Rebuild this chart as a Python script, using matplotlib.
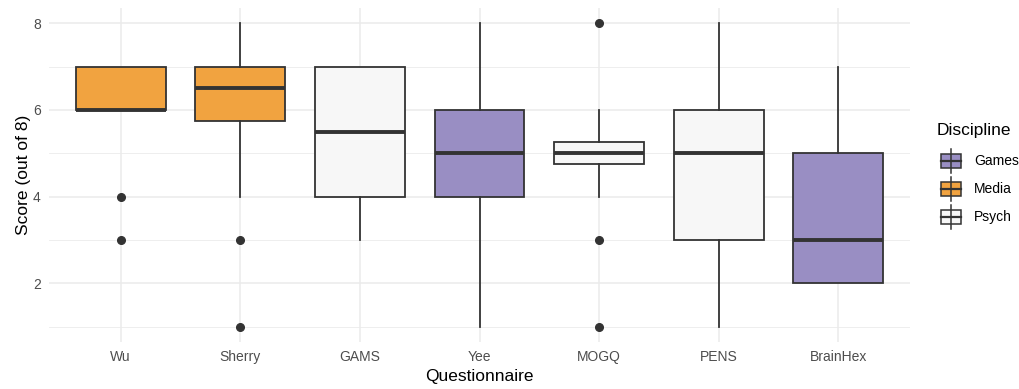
import matplotlib
matplotlib.use("Agg")
import matplotlib.pyplot as plt
from matplotlib.patches import Rectangle

plt.rcParams['font.family'] = ['Liberation Sans', 'DejaVu Sans']

# data
questionnaires = ["Wu", "Sherry", "GAMS", "Yee", "MOGQ", "PENS", "BrainHex"]
discipline = ["Media", "Media", "Psych", "Games", "Psych", "Psych", "Games"]
q1 = [6, 5.75, 4, 4, 4.75, 3, 2]
median = [6, 6.5, 5.5, 5, 5, 5, 3]
q3 = [7, 7, 7, 6, 5.25, 6, 5]
whisker_lo = [6, 4, 3, 1, 4, 1, 2]
whisker_hi = [7, 8, 7, 8, 6, 8, 7]
outliers = [[4, 3], [3, 1], [], [], [8, 3, 1], [], []]

colors = {"Games": "#998EC3", "Media": "#F1A340", "Psych": "#F7F7F7"}
dark = "#333333"

W, H = 1019, 389
fig = plt.figure(figsize=(W / 100, H / 100), dpi=100)
ax = fig.add_axes([49 / W, (H - 342) / H, (910 - 49) / W, (342 - 8) / H])

stats = []
for i, name in enumerate(questionnaires):
    stats.append(dict(label=name, q1=q1[i], med=median[i], q3=q3[i],
                      whislo=whisker_lo[i], whishi=whisker_hi[i],
                      fliers=outliers[i]))

pos = list(range(1, len(questionnaires) + 1))
bp = ax.bxp(stats, positions=pos, widths=0.75, patch_artist=True,
            showcaps=False, zorder=3,
            boxprops=dict(edgecolor=dark, linewidth=1.3),
            whiskerprops=dict(color=dark, linewidth=1.3),
            medianprops=dict(color=dark, linewidth=2.8),
            flierprops=dict(marker="o", markerfacecolor=dark,
                            markeredgecolor=dark, markersize=5.5))
for patch, d in zip(bp["boxes"], discipline):
    patch.set_facecolor(colors[d])

ax.set_xlim(0.4, len(questionnaires) + 0.6)
ax.set_ylim(0.65, 8.35)
ax.set_yticks([2, 4, 6, 8])
ax.set_yticks([1, 3, 5, 7], minor=True)
ax.set_xticks(pos)
ax.set_xticklabels(questionnaires)
ax.grid(True, which="major", color="#EBEBEB", linewidth=1.1, zorder=0)
ax.grid(True, which="minor", axis="y", color="#EBEBEB", linewidth=0.6, zorder=0)
ax.set_axisbelow(True)
for s in ax.spines.values():
    s.set_visible(False)
ax.tick_params(which="both", length=0, labelsize=10, labelcolor="#4D4D4D", pad=6)
ax.set_xlabel("Questionnaire", fontsize=12.5, labelpad=3)
ax.set_ylabel("Score (out of 8)", fontsize=12.5, labelpad=1)

# legend drawn in pixel space
lg = fig.add_axes([0, 0, 1, 1], zorder=5)
lg.set_xlim(0, W)
lg.set_ylim(H, 0)
lg.axis("off")
lg.text(937, 131, "Discipline", fontsize=12.5, va="center", ha="left")
for k, d in enumerate(["Games", "Media", "Psych"]):
    yc = 161 + k * 28
    lg.plot([951, 951], [yc - 12, yc + 12], color=dark, lw=1.1)
    lg.add_patch(Rectangle((941, yc - 7), 20, 14, facecolor=colors[d],
                           edgecolor=dark, lw=1.1))
    lg.plot([941, 961], [yc, yc], color=dark, lw=1.6)
    lg.text(974, yc, d, fontsize=10, va="center", ha="left")

fig.savefig("out.png", dpi=100)
